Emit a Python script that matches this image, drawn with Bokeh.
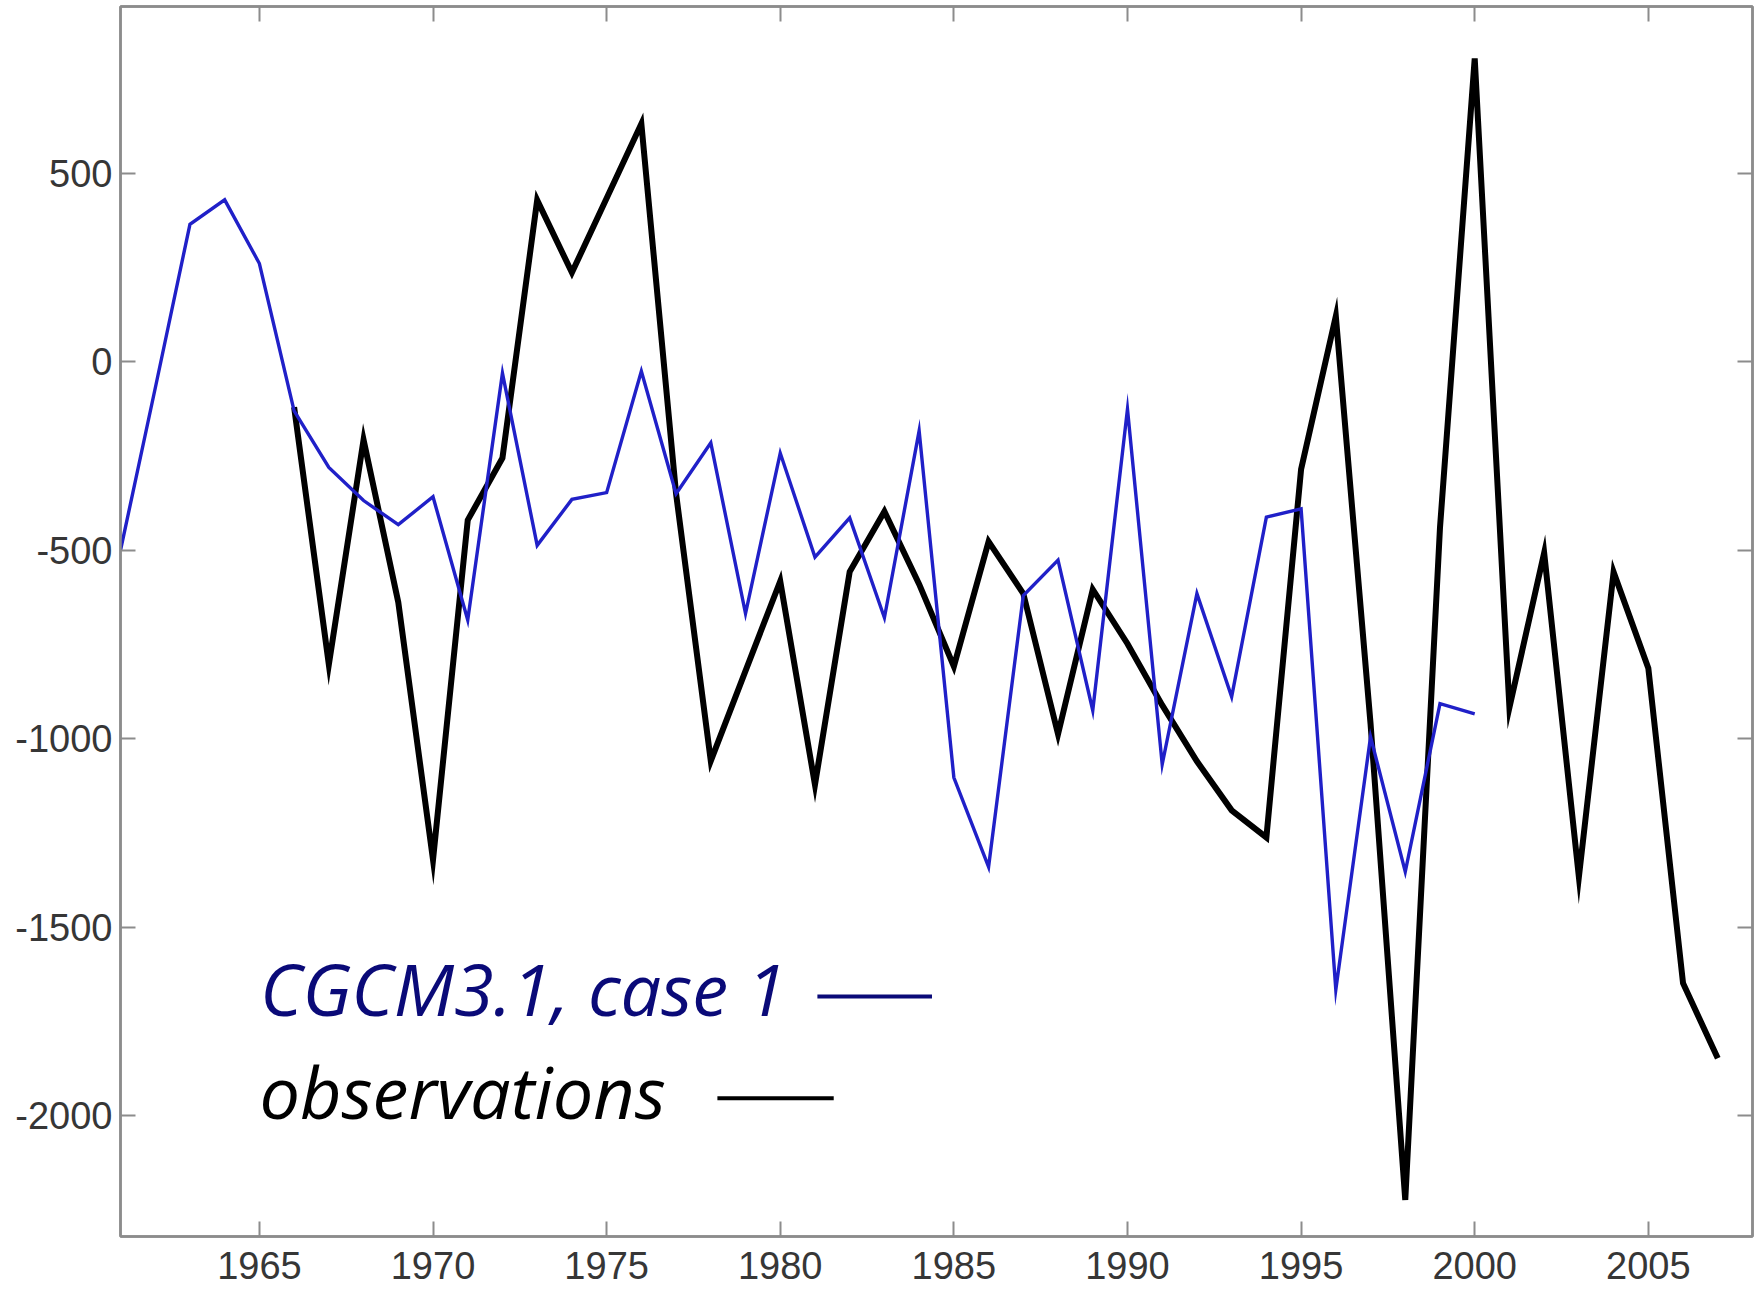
from bokeh.plotting import figure
from bokeh.models import Range1d, LinearAxis, FixedTicker, Label, ColumnDataSource
from bokeh.embed import file_html
from bokeh.resources import INLINE

# Model run (CGCM3.1, case 1), 1961-2000
model_years = list(range(1961, 2001))
model_values = [-500, -70, 365, 430, 261, -130, -280, -368, -432, -358,
                -685, -30, -487, -365, -347, -25, -350, -215, -668, -242,
                -518, -414, -679, -183, -1103, -1340, -620, -526, -925, -125,
                -1068, -615, -889, -412, -390, -1666, -995, -1353, -907, -934]

# Observations, 1966-2007
obs_years = list(range(1966, 2008))
obs_values = [-120, -803, -207, -638, -1321, -420, -255, 429, 237, 434,
              632, -350, -1059, -820, -582, -1122, -557, -397, -590, -808,
              -477, -615, -988, -604, -748, -911, -1060, -1190, -1262, -285,
              121, -960, -2224, -440, 805, -917, -507, -1367, -558, -813,
              -1649, -1848]

x_ticks = [1965, 1970, 1975, 1980, 1985, 1990, 1995, 2000, 2005]
y_ticks = [-2000, -1500, -1000, -500, 0, 500]

model_label = "CGCM3.1, case 1"
obs_label = "observations"

FRAME = "#8c8c8c"
TICK_TXT = "#363636"
MODEL_BLUE = "#2020c8"
NAVY = "#0a0a78"

p = figure(width=1754, height=1298,
           x_range=Range1d(1961, 2008), y_range=Range1d(-2321, 943),
           output_backend="svg", toolbar_location=None,
           min_border_left=120, min_border_right=2,
           min_border_top=6, min_border_bottom=62,
           background_fill_color="white", border_fill_color="white")
p.xgrid.grid_line_color = None
p.ygrid.grid_line_color = None
p.outline_line_color = FRAME
p.outline_line_width = 2.5

p.xaxis.ticker = FixedTicker(ticks=x_ticks)
p.yaxis.ticker = FixedTicker(ticks=y_ticks)

# box-style axes: tick marks on all four sides, labels only bottom/left
top_axis = LinearAxis(ticker=FixedTicker(ticks=x_ticks))
right_axis = LinearAxis(ticker=FixedTicker(ticks=y_ticks))
for ax in (top_axis, right_axis):
    ax.major_label_text_font_size = "0px"
    ax.major_label_text_alpha = 0
    ax.major_label_standoff = 0
p.add_layout(top_axis, "above")
p.add_layout(right_axis, "right")

for ax in p.axis:
    ax.axis_line_color = FRAME
    ax.axis_line_width = 2.5
    ax.major_tick_line_color = FRAME
    ax.major_tick_line_width = 2
    ax.major_tick_in = 15
    ax.major_tick_out = 0
    ax.minor_tick_line_color = None

bottom_axis = p.below[0]
left_axis = p.left[0]
for ax in (bottom_axis, left_axis):
    ax.major_label_text_font = "Liberation Sans"
    ax.major_label_text_font_size = "38px"
    ax.major_label_text_color = TICK_TXT
bottom_axis.major_label_standoff = 15
left_axis.major_label_standoff = 8
# plain hyphen for negative numbers
left_axis.major_label_overrides = {t: str(t) for t in y_ticks}
bottom_axis.major_label_overrides = {t: str(t) for t in x_ticks}

model_src = ColumnDataSource(dict(x=model_years, y=model_values))
obs_src = ColumnDataSource(dict(x=obs_years, y=obs_values))

p.line("x", "y", source=obs_src, line_color="black", line_width=6, line_join="miter")
p.line("x", "y", source=model_src, line_color=MODEL_BLUE, line_width=3.4, line_join="miter")

# key: italic captions with a short line sample to the right
p.add_layout(Label(x=1965.02, y=-1662, text=model_label, text_font="Open Sans",
                   text_font_style="italic", text_font_size="72px",
                   text_color=NAVY, text_baseline="alphabetic"))
p.add_layout(Label(x=1965.0, y=-1936, text=obs_label, text_font="Open Sans",
                   text_font_style="italic", text_font_size="72px",
                   text_color="black", text_baseline="alphabetic"))
p.segment(x0=[1981.07], y0=[-1684], x1=[1984.37], y1=[-1684],
          line_color=NAVY, line_width=4)
p.segment(x0=[1978.19], y0=[-1954], x1=[1981.54], y1=[-1954],
          line_color="black", line_width=4)

open("out.html", "w").write(file_html(p, INLINE))
